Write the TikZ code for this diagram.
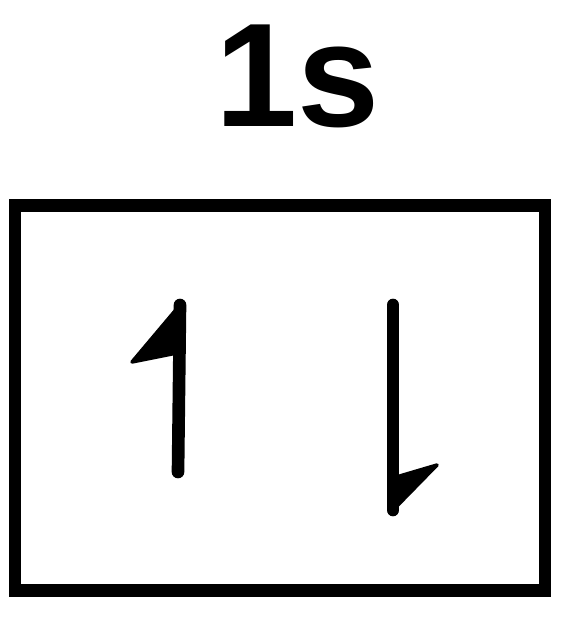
\documentclass[tikz,border=0pt]{standalone}
\usepackage{fontspec}
\setsansfont{Liberation Sans}
\begin{document}
\begin{tikzpicture}[x=0.01cm,y=-0.01cm,
  frame/.style={draw=black,line width=3.6pt,minimum width=5.3cm,minimum height=3.85cm,inner sep=0pt},
  spin/.style={line width=3.6pt,line cap=round},
  barb/.style={fill=black,draw=black,line width=1pt,line join=round}]
\useasboundingbox (0,0) rectangle (560,619);
\node[font=\sffamily\bfseries\fontsize{42}{42}\selectfont] (lbl) at (298,76) {1s};
\node[frame] (box) at (280,398) {};
\coordinate (upA) at (178,472);
\coordinate (upB) at (180,305);
\coordinate (dnA) at (393,305);
\coordinate (dnB) at (393,510);
\draw[spin] (upA) -- (upB);
\draw[barb] (upB) -- (132,362) -- (182,352) -- cycle;
\draw[spin] (dnA) -- (dnB);
\draw[barb] (dnB) -- (437,465) -- (393,478) -- cycle;
\end{tikzpicture}
\end{document}
